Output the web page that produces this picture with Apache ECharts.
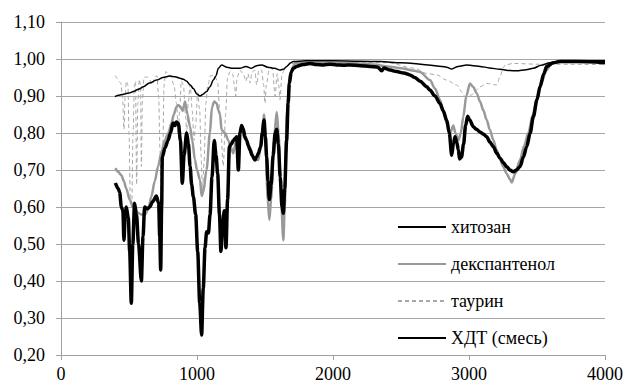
<!DOCTYPE html>
<html>
<head>
<meta charset="utf-8">
<script src="https://cdn.jsdelivr.net/npm/echarts@6/dist/echarts.min.js"></script>
<style>
  html, body { margin: 0; padding: 0; background: #fff; }
  #chart { width: 627px; height: 385px; }
</style>
</head>
<body>
<div id="chart"></div>
<script>
// wavenumber, value pairs
const chitosan = [
  [397,0.898],[420,0.902],[460,0.905],[500,0.908],[532,0.912],[570,0.918],[605,0.925],[650,0.935],
  [703,0.943],[750,0.95],[801,0.954],[840,0.952],[875,0.948],[900,0.945],[924,0.94],[950,0.93],
  [973,0.92],[1000,0.905],[1022,0.9],[1045,0.905],[1071,0.912],[1095,0.925],[1120,0.943],[1140,0.955],
  [1157,0.975],[1181,0.984],[1220,0.978],[1260,0.975],[1316,0.975],[1360,0.98],[1400,0.975],[1440,0.982],
  [1476,0.984],[1520,0.978],[1570,0.975],[1610,0.97],[1640,0.973],[1659,0.98],[1690,0.99],[1708,0.993],
  [1800,0.995],[2000,0.995],[2200,0.994],[2346,0.993],[2500,0.99],[2590,0.988],[2700,0.984],[2800,0.98],
  [2836,0.978],[2873,0.973],[2920,0.98],[2983,0.984],[3030,0.982],[3081,0.98],[3150,0.976],[3228,0.972],
  [3300,0.969],[3351,0.968],[3420,0.971],[3473,0.975],[3530,0.983],[3596,0.99],[3693,0.995],[4000,0.995]
];

const dexpanthenol = [
  [400,0.705],[420,0.695],[444,0.686],[462,0.67],[480,0.65],[505,0.62],[529,0.6],[560,0.585],
  [590,0.58],[620,0.58],[645,0.6],[664,0.628],[690,0.67],[713,0.709],[740,0.75],[762,0.78],
  [790,0.8],[811,0.826],[830,0.85],[848,0.87],[863,0.876],[880,0.87],[895,0.86],[912,0.885],
  [930,0.85],[949,0.817],[965,0.78],[985,0.727],[1000,0.7],[1022,0.673],[1034,0.63],[1046,0.64],
  [1070,0.7],[1095,0.8],[1110,0.87],[1127,0.885],[1145,0.88],[1157,0.862],[1169,0.85],[1181,0.808],
  [1206,0.8],[1230,0.78],[1250,0.76],[1267,0.745],[1292,0.79],[1304,0.72],[1316,0.8],[1328,0.81],
  [1350,0.785],[1370,0.775],[1390,0.76],[1420,0.73],[1451,0.727],[1470,0.77],[1488,0.835],[1493,0.85],
  [1505,0.76],[1520,0.62],[1532,0.565],[1545,0.62],[1565,0.78],[1586,0.857],[1600,0.8],[1615,0.65],
  [1635,0.51],[1645,0.6],[1660,0.85],[1684,0.96],[1720,0.988],[1800,0.99],[1900,0.99],[2000,0.99],
  [2100,0.989],[2200,0.988],[2300,0.985],[2400,0.98],[2500,0.975],[2600,0.968],[2640,0.965],[2713,0.943],
  [2750,0.92],[2787,0.89],[2810,0.86],[2836,0.826],[2860,0.8],[2885,0.82],[2900,0.8],[2922,0.78],
  [2940,0.8],[2958,0.844],[2980,0.9],[3007,0.934],[3030,0.925],[3057,0.907],[3081,0.885],[3105,0.862],
  [3130,0.835],[3154,0.808],[3180,0.78],[3203,0.754],[3228,0.73],[3252,0.709],[3277,0.69],[3301,0.675],
  [3314,0.666],[3340,0.69],[3375,0.727],[3405,0.765],[3436,0.8],[3470,0.85],[3498,0.89],[3530,0.935],
  [3571,0.97],[3600,0.985],[3645,0.993],[4000,0.993]
];

const taurine = [
  [400,0.955],[412,0.948],[425,0.94],[440,0.935],[452,0.9],[463,0.81],[472,0.9],[480,0.94],
  [492,0.93],[500,0.8],[510,0.62],[520,0.6],[530,0.8],[540,0.93],[548,0.94],[556,0.66],
  [565,0.88],[575,0.945],[585,0.93],[591,0.71],[598,0.88],[610,0.95],[630,0.952],[650,0.945],
  [670,0.93],[690,0.95],[705,0.955],[718,0.9],[728,0.75],[738,0.62],[748,0.75],[758,0.93],
  [770,0.966],[790,0.96],[810,0.95],[830,0.93],[850,0.88],[862,0.8],[872,0.86],[885,0.94],
  [900,0.93],[915,0.85],[925,0.8],[935,0.88],[950,0.93],[965,0.86],[978,0.78],[990,0.82],
  [1005,0.91],[1020,0.86],[1030,0.74],[1040,0.64],[1052,0.72],[1065,0.88],[1080,0.93],[1100,0.955],
  [1130,0.955],[1150,0.94],[1170,0.85],[1193,0.71],[1210,0.85],[1225,0.95],[1243,0.966],[1262,0.96],
  [1275,0.93],[1285,0.9],[1295,0.95],[1315,0.97],[1340,0.96],[1360,0.94],[1375,0.96],[1390,0.935],
  [1405,0.965],[1425,0.97],[1439,0.93],[1455,0.97],[1475,0.97],[1490,0.93],[1500,0.88],[1510,0.93],
  [1530,0.97],[1555,0.975],[1574,0.9],[1590,0.96],[1600,0.93],[1610,0.89],[1625,0.96],[1650,0.975],
  [1680,0.985],[1720,0.99],[1800,0.99],[2000,0.99],[2200,0.99],[2400,0.99],[2600,0.975],[2689,0.961],
  [2762,0.957],[2836,0.943],[2909,0.93],[2950,0.91],[2971,0.898],[3020,0.903],[3050,0.915],[3081,0.925],
  [3130,0.934],[3203,0.93],[3228,0.952],[3250,0.975],[3265,0.984],[3326,0.988],[3500,0.986],[4000,0.985]
];

const mixture = [
  [400,0.665],[420,0.65],[431,0.64],[444,0.6],[455,0.59],[463,0.51],[472,0.58],[480,0.6],
  [495,0.57],[505,0.48],[517,0.34],[528,0.5],[541,0.61],[555,0.58],[570,0.5],[591,0.4],
  [603,0.52],[615,0.6],[635,0.595],[652,0.6],[675,0.615],[701,0.63],[718,0.61],[726,0.52],
  [733,0.43],[740,0.6],[745,0.735],[765,0.76],[787,0.78],[805,0.8],[824,0.827],[838,0.82],
  [848,0.83],[863,0.826],[878,0.78],[892,0.664],[905,0.74],[924,0.8],[937,0.77],[949,0.71],
  [961,0.66],[973,0.628],[990,0.58],[1005,0.48],[1020,0.34],[1034,0.254],[1046,0.38],[1059,0.49],
  [1071,0.533],[1084,0.53],[1096,0.58],[1110,0.68],[1127,0.78],[1140,0.74],[1152,0.69],[1165,0.58],
  [1176,0.48],[1188,0.55],[1201,0.59],[1213,0.49],[1225,0.62],[1238,0.763],[1252,0.77],[1267,0.78],
  [1280,0.785],[1292,0.79],[1304,0.7],[1316,0.8],[1328,0.82],[1341,0.81],[1352,0.79],[1365,0.78],
  [1378,0.765],[1390,0.754],[1405,0.74],[1426,0.727],[1438,0.735],[1451,0.745],[1468,0.763],[1480,0.8],
  [1493,0.835],[1503,0.79],[1512,0.736],[1522,0.67],[1532,0.62],[1545,0.66],[1560,0.74],[1575,0.8],
  [1586,0.81],[1598,0.77],[1612,0.68],[1625,0.6],[1635,0.583],[1645,0.65],[1659,0.78],[1670,0.88],
  [1679,0.934],[1693,0.965],[1708,0.975],[1733,0.98],[1780,0.985],[1831,0.988],[1880,0.985],[1929,0.984],
  [1980,0.986],[2027,0.984],[2080,0.983],[2125,0.984],[2200,0.982],[2272,0.98],[2330,0.978],[2358,0.968],
  [2375,0.976],[2420,0.97],[2468,0.966],[2520,0.962],[2566,0.957],[2600,0.95],[2640,0.94],[2689,0.925],
  [2713,0.916],[2750,0.9],[2787,0.88],[2810,0.86],[2836,0.835],[2855,0.8],[2873,0.74],[2885,0.77],
  [2897,0.79],[2910,0.775],[2922,0.754],[2930,0.73],[2945,0.735],[2960,0.77],[2975,0.82],[2990,0.845],
  [3005,0.835],[3032,0.817],[3055,0.81],[3081,0.803],[3105,0.797],[3130,0.79],[3155,0.775],[3179,0.763],
  [3205,0.745],[3228,0.732],[3252,0.72],[3277,0.709],[3300,0.7],[3326,0.695],[3350,0.7],[3375,0.709],
  [3400,0.735],[3424,0.763],[3450,0.8],[3473,0.844],[3500,0.89],[3522,0.925],[3550,0.96],[3571,0.98],
  [3620,0.99],[3669,0.993],[3800,0.993],[4000,0.99]
];

const legendNames = ["хитозан", "декспантенол", "таурин", "ХДТ (смесь)"];

const font = "'Liberation Serif', 'Times New Roman', serif";
const chart = echarts.init(document.getElementById("chart"), null, { renderer: "svg" });

chart.setOption({
  animation: false,
  backgroundColor: "#fff",
  grid: { left: 61, right: 22, top: 22, bottom: 30, containLabel: false, outerBoundsMode: "none" },
  legend: {
    data: legendNames,
    orient: "vertical",
    left: 397,
    top: 218,
    padding: 0,
    itemWidth: 48,
    itemHeight: 14,
    itemGap: 19,
    itemStyle: { opacity: 0 },
    textStyle: { fontFamily: font, fontSize: 18, lineHeight: 18, color: "#000" },
  },
  xAxis: {
    type: "value",
    min: 0,
    max: 4000,
    interval: 1000,
    axisLine: { lineStyle: { color: "#a0a0a0" } },
    axisTick: { show: true, length: 5, lineStyle: { color: "#a0a0a0" } },
    splitLine: { show: false },
    axisLabel: {
      fontFamily: font,
      fontSize: 18,
      lineHeight: 18,
      color: "#000",
      margin: 10,
      formatter: (v) => String(v),
    },
  },
  yAxis: {
    type: "value",
    min: 0.2,
    max: 1.1,
    interval: 0.1,
    axisLine: { show: true, lineStyle: { color: "#a0a0a0" } },
    axisTick: { show: true, length: 5, lineStyle: { color: "#a0a0a0" } },
    splitLine: { lineStyle: { color: "#a6a6a6", width: 1 } },
    axisLabel: {
      fontFamily: font,
      fontSize: 18,
      color: "#000",
      margin: 16,
      formatter: (v) => v.toFixed(2).replace(".", ","),
    },
  },
  series: [
    {
      name: "таурин",
      type: "line",
      data: taurine,
      symbol: "none",
      smooth: 0.3,
      smoothMonotone: "x",
      lineStyle: { color: "#a8a8a8", width: 1, type: [4, 3] },
      itemStyle: { color: "#a8a8a8" },
    },
    {
      name: "декспантенол",
      type: "line",
      data: dexpanthenol,
      symbol: "none",
      smooth: 0.3,
      smoothMonotone: "x",
      lineStyle: { color: "#999", width: 2.5 },
      itemStyle: { color: "#999" },
    },
    {
      name: "хитозан",
      type: "line",
      data: chitosan,
      symbol: "none",
      smooth: 0.3,
      smoothMonotone: "x",
      lineStyle: { color: "#000", width: 1.5 },
      itemStyle: { color: "#000" },
    },
    {
      name: "ХДТ (смесь)",
      type: "line",
      data: mixture,
      symbol: "none",
      smooth: 0.3,
      smoothMonotone: "x",
      lineStyle: { color: "#000", width: 3.5 },
      itemStyle: { color: "#000" },
    },
  ],
});
</script>
</body>
</html>
